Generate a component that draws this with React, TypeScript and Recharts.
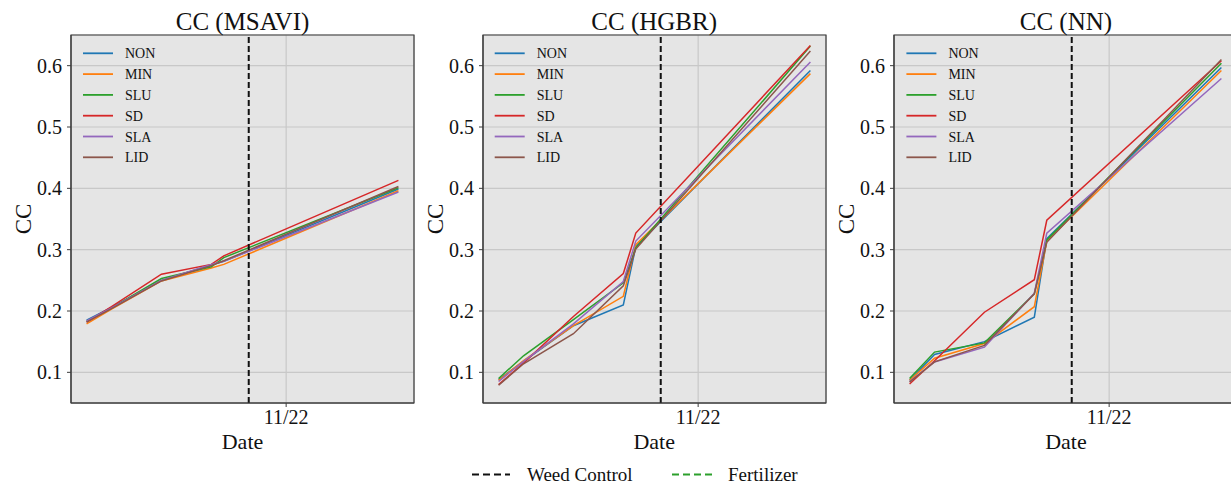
import {
  CartesianGrid,
  Line,
  LineChart,
  ReferenceArea,
  ReferenceLine,
  XAxis,
  YAxis,
} from "recharts"

// sampling dates shared by all three estimators
const DATES = ["2022-10-16", "2022-10-18", "2022-10-22", "2022-10-26", "2022-10-27", "2022-11-10"]
const X_TICK_DATES = ["2022-11-01"]
const WEED_CONTROL_DATE = "2022-10-29"

const Y_TICKS = [0.1, 0.2, 0.3, 0.4, 0.5, 0.6]
const Y_DOMAIN: [number, number] = [0.05, 0.65]

const TREATMENTS = ["NON", "MIN", "SLU", "SD", "SLA", "LID"]
const COLORS = ["#1f77b4", "#ff7f0e", "#2ca02c", "#d62728", "#9467bd", "#8c564b"]

// canopy cover per treatment, one row per treatment in TREATMENTS order
const MSAVI_NON = [0.185, 0.206, 0.25, 0.275, 0.281, 0.399]
const MSAVI_MIN = [0.179, 0.203, 0.249, 0.27, 0.276, 0.396]
const MSAVI_SLU = [0.183, 0.205, 0.253, 0.272, 0.287, 0.401]
const MSAVI_SD = [0.182, 0.207, 0.26, 0.276, 0.29, 0.413]
const MSAVI_SLA = [0.184, 0.205, 0.25, 0.276, 0.281, 0.394]
const MSAVI_LID = [0.182, 0.204, 0.249, 0.274, 0.282, 0.403]

const HGBR_NON = [0.088, 0.118, 0.176, 0.21, 0.305, 0.592]
const HGBR_MIN = [0.087, 0.119, 0.176, 0.224, 0.308, 0.587]
const HGBR_SLU = [0.09, 0.127, 0.186, 0.246, 0.303, 0.632]
const HGBR_SD = [0.08, 0.115, 0.191, 0.261, 0.327, 0.633]
const HGBR_SLA = [0.085, 0.118, 0.179, 0.248, 0.314, 0.606]
const HGBR_LID = [0.079, 0.114, 0.163, 0.241, 0.301, 0.624]

const NN_NON = [0.087, 0.129, 0.15, 0.19, 0.318, 0.597]
const NN_MIN = [0.087, 0.123, 0.147, 0.207, 0.314, 0.592]
const NN_SLU = [0.09, 0.133, 0.148, 0.228, 0.316, 0.604]
const NN_SD = [0.081, 0.119, 0.198, 0.251, 0.348, 0.608]
const NN_SLA = [0.085, 0.117, 0.141, 0.229, 0.327, 0.579]
const NN_LID = [0.084, 0.117, 0.144, 0.228, 0.312, 0.61]

const PANELS = [
  { title: "CC (MSAVI)", rows: [MSAVI_NON, MSAVI_MIN, MSAVI_SLU, MSAVI_SD, MSAVI_SLA, MSAVI_LID] },
  { title: "CC (HGBR)", rows: [HGBR_NON, HGBR_MIN, HGBR_SLU, HGBR_SD, HGBR_SLA, HGBR_LID] },
  { title: "CC (NN)", rows: [NN_NON, NN_MIN, NN_SLU, NN_SD, NN_SLA, NN_LID] },
]

const DAY_MS = 86_400_000
const dayOf = (iso: string) => (Date.parse(iso) - Date.parse(DATES[0])) / DAY_MS

const formatMonth = (day: number) => {
  const d = new Date(Date.parse(DATES[0]) + day * DAY_MS)
  return `${d.getUTCMonth() + 1}/${String(d.getUTCFullYear() % 100).padStart(2, "0")}`
}

const days = DATES.map(dayOf)
const span = days[days.length - 1] - days[0]
const X_DOMAIN: [number, number] = [days[0] - span * 0.05, days[days.length - 1] + span * 0.05]

// layout
const FONT = "'Liberation Serif', 'Times New Roman', serif"
const CHART_W = 420
const CHART_H = 485
const PANEL_STEP = 411.7
const MARGIN = { top: 35, right: 6, bottom: 52, left: 11 }
const Y_AXIS_W = 60
const X_AXIS_H = 30
const PLOT_LEFT = MARGIN.left + Y_AXIS_W
const PLOT_W = CHART_W - PLOT_LEFT - MARGIN.right
const AXIS_COLOR = "#3d3d3d"

function Panel({ rows }: { rows: number[][] }) {
  const data = days.map((day, i) => {
    const point: Record<string, number> = { day }
    TREATMENTS.forEach((name, s) => {
      point[name] = rows[s][i]
    })
    return point
  })

  return (
    <LineChart width={CHART_W} height={CHART_H} data={data} margin={MARGIN}>
      <CartesianGrid stroke="#c8c8c8" strokeWidth={1.2} fill="#e5e5e5" fillOpacity={1} />
      <XAxis
        dataKey="day"
        type="number"
        domain={X_DOMAIN}
        ticks={X_TICK_DATES.map(dayOf)}
        tickFormatter={formatMonth}
        allowDataOverflow
        height={X_AXIS_H}
        tickSize={4}
        tickMargin={3}
        stroke={AXIS_COLOR}
        tick={{ fontFamily: FONT, fontSize: 20, fill: "#111" }}
      />
      <YAxis
        type="number"
        domain={Y_DOMAIN}
        ticks={Y_TICKS}
        tickFormatter={(v: number) => v.toFixed(1)}
        allowDataOverflow
        width={Y_AXIS_W}
        tickSize={4}
        tickMargin={5}
        stroke={AXIS_COLOR}
        tick={{ fontFamily: FONT, fontSize: 20, fill: "#111" }}
      />
      {TREATMENTS.map((name, s) => (
        <Line
          key={name}
          type="linear"
          dataKey={name}
          stroke={COLORS[s]}
          strokeWidth={1.5}
          dot={false}
          isAnimationActive={false}
        />
      ))}
      <ReferenceLine x={dayOf(WEED_CONTROL_DATE)} stroke="#111" strokeWidth={2} strokeDasharray="6 3" />
      <ReferenceArea
        x1={X_DOMAIN[0]}
        x2={X_DOMAIN[1]}
        y1={Y_DOMAIN[0]}
        y2={Y_DOMAIN[1]}
        fill="none"
        stroke={AXIS_COLOR}
        strokeWidth={1.2}
      />
    </LineChart>
  )
}

export default function App() {
  const plotTop = MARGIN.top
  const plotBottom = CHART_H - MARGIN.bottom - X_AXIS_H
  const plotMid = (plotTop + plotBottom) / 2

  return (
    <div
      style={{
        position: "absolute",
        left: 0,
        top: 0,
        width: 1231,
        height: 485,
        overflow: "hidden",
        background: "#fff",
      }}
    >
      {PANELS.map((panel, p) => (
        <div key={panel.title} style={{ position: "absolute", left: p * PANEL_STEP, top: 0 }}>
          <Panel rows={panel.rows} />
        </div>
      ))}
      <svg
        width={1231}
        height={485}
        style={{ position: "absolute", left: 0, top: 0, pointerEvents: "none" }}
        fontFamily={FONT}
      >
        {PANELS.map((panel, p) => {
          const left = p * PANEL_STEP + PLOT_LEFT
          const cx = left + PLOT_W / 2
          return (
            <g key={panel.title}>
              <text x={cx} y={30} textAnchor="middle" fontSize={25} fill="#111">
                {panel.title}
              </text>
              <text
                transform={`translate(${left - 40},${plotMid}) rotate(-90)`}
                textAnchor="middle"
                fontSize={23}
                fill="#111"
              >
                CC
              </text>
              <text x={cx} y={449} textAnchor="middle" fontSize={22} fill="#111">
                Date
              </text>
              {TREATMENTS.map((name, s) => {
                const y = 53.3 + s * 20.8
                return (
                  <g key={name}>
                    <line x1={left + 12} x2={left + 42} y1={y} y2={y} stroke={COLORS[s]} strokeWidth={1.8} />
                    <text x={left + 54} y={y + 5} fontSize={14} fill="#111">
                      {name}
                    </text>
                  </g>
                )
              })}
            </g>
          )
        })}
        <line x1={472} x2={510} y1={474.5} y2={474.5} stroke="#111" strokeWidth={2} strokeDasharray="7 4" />
        <text x={527} y={481} fontSize={19} fill="#111">
          Weed Control
        </text>
        <line x1={672} x2={713} y1={474.5} y2={474.5} stroke="#2ca02c" strokeWidth={2} strokeDasharray="7 4" />
        <text x={728} y={481} fontSize={19} fill="#111">
          Fertilizer
        </text>
      </svg>
    </div>
  )
}
